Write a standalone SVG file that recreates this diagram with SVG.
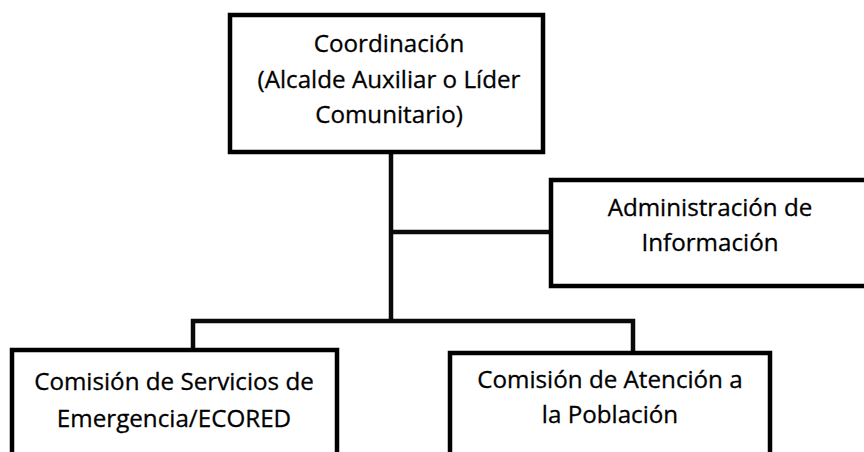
<svg xmlns="http://www.w3.org/2000/svg" width="864" height="452" viewBox="0 0 864 452">
<style>
.box{fill:#fff;stroke:#000;stroke-width:4.5}
.ln{fill:none;stroke:#0a0a0a;stroke-width:4.5}
.t{font-family:"Open Sans","Noto Sans",sans-serif;font-size:24.2px;fill:#000;stroke:#000;stroke-width:0.3;text-anchor:middle}
</style>
<rect width="864" height="452" fill="#fff"/>
<g id="connectors">
<line class="ln" x1="391" y1="152" x2="391" y2="321"/>
<line class="ln" x1="391" y1="232" x2="551" y2="232"/>
<polyline class="ln" points="193,350 193,321 633,321 633,353"/>
</g>
<g id="coordinacion">
<rect class="box" x="230" y="15" width="313" height="137"/>
<text class="t" x="389" y="52">Coordinación</text>
<text class="t" x="389" y="88">(Alcalde Auxiliar o Líder</text>
<text class="t" x="389" y="123">Comunitario)</text>
</g>
<g id="administracion">
<rect class="box" x="551" y="180" width="330" height="106"/>
<text class="t" x="710" y="216">Administración de</text>
<text class="t" x="710" y="251">Información</text>
</g>
<g id="emergencia">
<rect class="box" x="12" y="350" width="325" height="120"/>
<text class="t" x="174" y="390">Comisión de Servicios de</text>
<text class="t" x="174" y="427">Emergencia/ECORED</text>
</g>
<g id="poblacion">
<rect class="box" x="450" y="353" width="320" height="120"/>
<text class="t" x="610" y="388">Comisión de Atención a</text>
<text class="t" x="610" y="423">la Población</text>
</g>
</svg>
